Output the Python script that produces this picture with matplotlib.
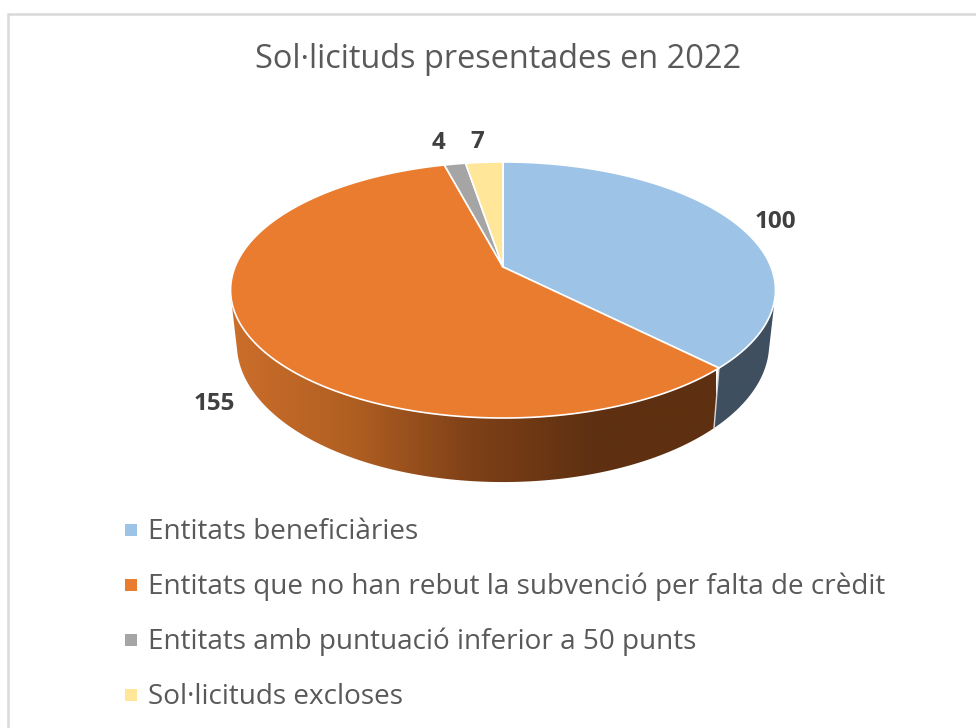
import numpy as np
import matplotlib
matplotlib.use('Agg')
import matplotlib.pyplot as plt
from matplotlib.patches import Polygon, Rectangle

title = 'Sol·licituds presentades en 2022'
categories = ['Entitats beneficiàries',
              'Entitats que no han rebut la subvenció per falta de crèdit',
              'Entitats amb puntuació inferior a 50 punts',
              'Sol·licituds excloses']
values = [100, 155, 4, 7]
colors = ['#9DC3E6', '#EA7C30', '#A5A5A5', '#FFE699']
label_pos = [(775, 222), (214, 404), (438, 143), (477, 142)]
legend_y = [530, 585, 640, 695]

plt.rcParams['font.family'] = ['Open Sans', 'DejaVu Sans']

# perspective of the pie disc, in pixels of the picture
cx, cy = 503, 267
B, C, r = -75.9, 268, 0.1797


def top_face(a):
    x, y = np.sin(a), np.cos(a)
    return cx + C * x / (1 + r * y), (cy + B * y) / (1 + r * y)


def bottom_face(a):
    x, y = top_face(a)
    return cx + 0.977 * (x - cx), 1.08 * y + 30.6


def arc(a0, a1, face):
    a = np.linspace(a0, a1, 200)
    return np.column_stack(face(a))


def visible_part(a0, a1):
    # keep the part of a slice whose wall faces the viewer
    a = np.linspace(a0, a1, 2000)
    tx, ty = top_face(a)
    bx, by = bottom_face(a)
    dx, dy = np.gradient(tx, a), np.gradient(ty, a)
    front = dx * (by - ty) - dy * (bx - tx) < 0
    return a[front][0], a[front][-1]


fig = plt.figure(figsize=(9.76, 7.28), dpi=100)
ax = fig.add_axes([0, 0, 1, 1])
ax.set_xlim(0, 976)
ax.set_ylim(728, 0)
ax.axis('off')

# frame of the chart, the right and bottom sides are cut off
ax.plot([8, 8, 976], [728, 14, 14], color='#D9D9D9', lw=1.8, solid_joinstyle='miter')

edges = np.cumsum([0] + values) / sum(values) * 2 * np.pi

# side walls, only the two big slices can be seen
wall_gradients = [
    (['#3F4F60', '#3F4F60'], 0),
    (['#CC6E2B', '#B05F22', '#7E4017', '#5E3011', '#5E3011'], 1),
]
for stops, i in wall_gradients:
    a0, a1 = visible_part(edges[i], edges[i + 1])
    pts = np.vstack([arc(a0, a1, top_face), arc(a1, a0, bottom_face)])
    rgb = np.array([matplotlib.colors.to_rgb(c) for c in stops])
    xs = np.linspace(0, 1, 400)
    grad = np.column_stack([np.interp(xs, np.linspace(0, 1, len(stops)), rgb[:, k]) for k in range(3)])
    im = ax.imshow(grad[None, :, :], extent=[230, 716 if i == 1 else 780, 490, 280], aspect='auto', zorder=2)
    ax.set_xlim(0, 976)
    ax.set_ylim(728, 0)
    clip = Polygon(pts, closed=True, transform=ax.transData, fc='none', ec='none')
    ax.add_patch(clip)
    im.set_clip_path(clip)

# line between the two walls
ax.plot(*zip(top_face(edges[1]), bottom_face(edges[1])), color='#D8D8D8', lw=1, zorder=3)

# top of the pie
for i, c in enumerate(colors):
    pts = np.vstack([[cx, cy], arc(edges[i], edges[i + 1], top_face)])
    ax.add_patch(Polygon(pts, closed=True, fc=c, ec='white', lw=1.2, zorder=4))

for v, (x, y) in zip(values, label_pos):
    ax.text(x, y, str(v), ha='center', va='center', fontsize=17.5, fontweight='bold', color='#404040', zorder=5)

ax.text(498.5, 60, title, ha='center', va='center', fontsize=23.4, color='#595959')

for name, c, y in zip(categories, colors, legend_y):
    ax.add_patch(Rectangle((125, y - 6), 12, 12, fc=c, ec='none'))
    ax.text(148, y + 2, name, ha='left', va='center', fontsize=20.1, color='#595959')

fig.savefig('out.png', dpi=100)
